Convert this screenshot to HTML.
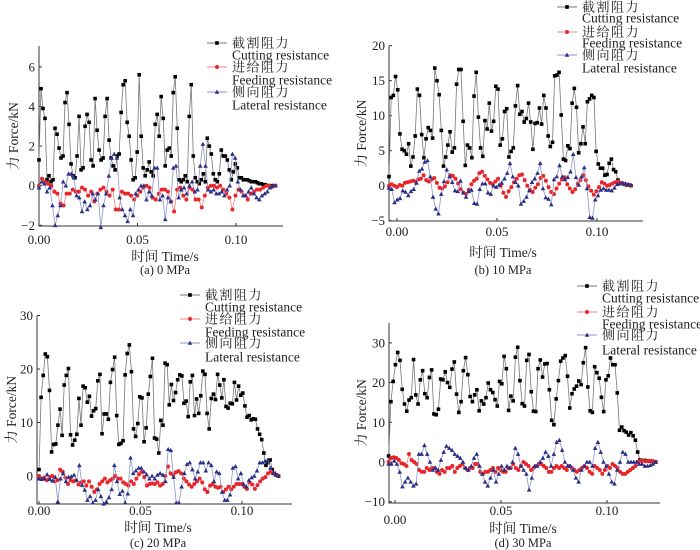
<!DOCTYPE html>
<html><head><meta charset="utf-8"><style>
body{margin:0;background:#fff;}
svg{display:block;font-family:"Liberation Serif","Noto Serif CJK SC",serif;}
</style></head><body>
<svg id="fig" width="700" height="550" viewBox="0 0 700 550" xmlns="http://www.w3.org/2000/svg"></svg>
<script>
// ---- data ----
const aCut=[1.3,4.9,3.9,3.4,0.3,0.5,0.2,0.3,2.9,2.6,1.9,1.4,1.5,4.2,4.7,3.1,1.1,0.5,0.4,1.5,3.5,0.8,0.9,3.0,3.6,3.2,1.3,1.0,4.4,2.8,1.8,1.3,1.4,3.5,4.4,2.3,1.4,1.0,0.8,1.5,1.6,3.7,5.1,5.3,3.2,2.5,1.3,0.3,0.4,1.7,5.6,2.5,0.9,0.5,0.8,1.2,0.7,0.5,3.1,3.6,2.5,4.5,3.4,1.0,1.8,1.9,1.5,4.7,5.5,2.9,0.3,0.2,0.3,0.5,0.2,3.5,5.1,1.5,0.4,0.2,0.1,0.3,0.6,0.2,2.4,2.0,1.6,0.6,0.3,0.2,0.6,1.8,1.5,1.5,1.3,0.8,0.3,0.7,1.1,0.9,0.4,0.4,0.3,0.3,0.3,0.25,0.2,0.2,0.2,0.15,0.1,0.1,0.05,0.05,0,0,0,0,0];
const aFeed=[0,0.35,0.2,0.1,0,-0.3,-0.4,-0.9,-1.0,-0.4,-0.4,-0.2,-0.3,-0.3,-0.1,-0.2,-0.5,-0.3,-0.8,-0.4,-0.2,-0.1,-0.3,-0.5,-0.2,-1.2,-1.2,-0.3,-0.4,-0.4,-0.5,-0.7,-0.5,-0.3,-0.1,0,-0.1,-0.6,-0.7,-0.4,-0.2,-0.2,-0.3,-0.8,-1.3,-0.2,-0.1,-0.5,-0.7,-0.1,-0.2,-0.7,-0.7,-1.1,-0.5,-0.1,0,0,-0.1,0,-0.2,-0.4,-0.6,-1.2,-0.5,-0.2,-0.3,-0.5,-0.7,-0.4,-0.3,-0.2,-0.2,-0.1,0,0,-0.05,0];
const aLat=[-0.1,0.2,0.1,-0.3,-0.1,-1.0,-2.0,-1.5,-1.0,0.2,0,0.6,0.6,0.4,-0.5,-0.6,-1.3,-0.8,-1.2,-1.0,-0.4,-0.7,-0.4,-2.1,-1.0,-0.4,0.5,1.4,1.6,1.4,-0.6,-1.2,-1.5,-1.8,-1.2,-1.5,-0.4,-0.2,0,0,-0.7,-0.3,-0.5,0.9,0.9,-0.7,-0.5,-1.7,-0.6,-0.8,0.9,1.0,-0.6,-0.2,-0.1,-0.4,0,0.2,-0.3,-0.2,1.0,2.1,1.0,-0.2,-0.3,-0.2,-0.4,-0.4,-0.3,-0.5,-0.2,0,1.6,1.4,0.2,-0.2,-0.5,-0.5,-0.3,-0.1,-0.4,-0.6,-0.7,-0.5,-0.4,-0.3,-0.1,0,0];
const bCut=[1.3,12.6,12.9,15.6,13.7,7.4,5.2,5.0,4.5,6.0,2.8,4.1,7.1,13.8,12.9,7.3,4.0,6.7,8.3,7.9,6.8,16.8,15.0,13.0,7.9,2.8,4.1,5.8,7.7,4.8,5.4,14.5,16.6,16.6,9.2,2.9,5.8,5.4,4.0,12.8,16.2,9.8,5.4,4.2,9.3,8.1,11.8,7.8,9.2,14.2,13.8,5.8,6.7,10.6,11.0,4.1,4.9,5.4,11.4,14.3,10.2,10.6,9.1,9.6,11.8,9.1,5.2,8.9,9.0,11.1,8.8,12.9,11.1,7.1,5.6,6.2,15.7,15.8,16.2,10.1,3.8,3.6,5.7,5.3,11.8,13.9,11.2,4.7,6.0,8.4,6.0,12.0,12.4,12.9,12.6,4.9,3.1,2.5,2.5,1.5,1.6,3.2,3.8,2.3,2.0,0.8,0.4,0.3,0.2,0.1,0.1,0];
const bFeed=[0,0.2,0,-0.2,0.1,0,0.4,0.5,0.6,0.7,0.6,0.9,1.0,1.5,0.8,0.6,0.9,1.1,0.4,-0.3,-0.4,-0.1,0.5,1.5,1.4,1.0,0.3,-0.5,-1.0,-1.2,-0.6,0.2,0.7,1.0,1.8,2.0,1.4,0.9,0.4,0.2,0.6,1.0,0,-1.0,-1.6,-0.8,-0.2,0.5,1.0,1.5,1.6,0.8,0,-0.6,-0.9,-0.3,0.2,1.1,1.4,0.7,-0.2,-0.9,-1.2,-0.4,0.3,0.9,1.2,0.2,-0.4,-0.9,-0.5,0.3,0.8,1.5,0.8,-0.1,-0.7,-1.3,-0.8,-0.2,0.5,0.3,0,0.1,0.3,0.5,0.6,0.4,0.3,0.2,0.1,0];
const bLat=[-0.3,-0.5,-2.4,-2.0,-1.8,-0.7,-0.9,-1.4,-0.8,-0.5,0.4,2.1,2.4,3.4,3.6,1.3,-1.6,-3.3,-4.0,-1.2,0.6,2.3,1.3,0.5,-0.7,-0.8,0.7,-1.0,-1.6,-0.8,-0.6,-2.5,-2.6,-0.5,0.3,0.3,-1.0,-1.2,0,-0.2,0.1,0.4,1.0,1.8,3.2,1.3,0.5,0,-2.6,-2.2,-1.6,-0.7,0.5,1.0,1.8,3.2,-0.4,-1.7,-1.9,-2.7,0.9,1.3,2.9,1.3,0.9,1.2,2.0,4.5,1.2,0.1,1.3,2.6,-0.4,-4.5,-4.6,-2.0,-1.4,-0.6,-0.4,-0.6,-0.6,-0.7,-0.3,0.2,0.3,0.4,0.3,0.2,0.1];
const cCut=[1.2,14.7,18.8,22.8,22.3,16.0,4.5,5.9,6.0,9.5,12.5,7.6,17.0,18.8,20.1,7.7,5.8,6.7,7.8,14.5,9.5,16.8,16.5,13.8,14.9,11.2,12.2,12.6,17.8,19.0,7.9,11.6,11.6,10.6,17.5,19.9,22.2,11.3,5.9,6.1,6.6,18.9,22.9,24.5,19.5,8.8,7.4,9.8,14.8,14.6,6.4,9.0,15.3,18.6,22.0,7.1,6.9,4.3,10.4,9.5,21.1,20.8,13.3,17.1,14.1,15.6,18.0,18.9,18.7,13.6,14.0,11.1,17.6,18.8,11.3,14.4,11.7,15.0,19.6,19.0,11.7,8.8,14.5,15.3,14.3,19.0,17.0,14.6,18.0,13.0,12.7,13.6,13.5,17.5,14.2,16.8,15.1,15.5,13.1,11.0,11.3,10.5,10.7,10.6,8.8,7.8,6.8,4.3,2.0,2.5,3.0,1.2,0.5,0.2,0];
const cFeed=[0,-0.5,-0.3,-0.8,-0.2,0,-1.0,-0.8,1.2,0.8,-0.3,-1.5,-0.8,-1.0,-0.8,-1.6,-1.2,-1.0,-1.8,-1.0,-2.0,-3.0,-2.5,-1.5,-1.0,-0.5,-1.2,-0.8,-0.5,0,-0.5,-0.5,-1.2,-1.5,-1.8,-1.0,-1.5,-0.5,0.3,0.8,-0.2,-1.8,-1.5,-1.4,-1.5,-1.2,-1.8,-1.5,0,1.8,0.5,0.2,0.7,0.9,0.5,-0.5,-1.0,-1.6,-2.0,-1.5,-1.0,-0.5,-1.2,-2.5,-3.0,-1.8,-1.5,-2.0,-2.2,-2.0,-3.0,-2.5,-2.0,-2.5,-2.0,-1.5,-1.5,-1.5,-2.0,-2.4,-1.2,-1.6,-2.4,-1.7,-1.0,-0.5,-0.2,0.5,0.8,0.5,0.2,0];
const cLat=[-0.5,-0.6,-0.5,0.3,-0.6,-0.9,-0.2,-4.8,-0.5,0.5,-1.0,-0.2,-0.1,0.2,-0.8,2.0,-1.7,-2.6,-4.5,-3.8,-5.0,-4.5,-2.5,-3.8,-5.2,-4.8,-4.0,-2.5,2.0,-1.0,-3.4,-2.8,-5.0,-3.3,3.4,0.5,1.0,1.5,1.5,0.8,0.3,-0.5,0,-0.5,0.2,0.5,0.2,-1.0,5.0,4.8,-0.2,-5.0,-5.0,-2.0,0.5,2.2,2.5,1.2,-0.5,0.8,2.5,2.5,1.0,2.5,2.0,-1.0,0.8,0.5,-3.0,-4.5,-4.5,-3.5,1.5,1.8,-0.5,0.5,-1.5,-2.0,-0.8,-0.3,0,1.0,2.5,2.5,2.8,3.0,1.5,0.5,0.2,0];
const dCut=[1.5,15.2,20.3,24.5,27.6,25.6,18.3,14.6,12.8,15.6,16.2,25.8,16.9,14.6,20.7,23.0,17.2,16.2,21.3,23.2,12.1,11.9,13.3,20.9,20.7,22.7,20.0,18.8,23.4,25.2,17.1,12.5,15.2,23.0,26.3,22.0,16.5,15.2,16.9,18.2,12.9,15.4,14.6,16.2,19.9,18.2,17.5,15.7,14.1,20.3,19.7,26.6,23.5,13.0,16.6,15.4,26.4,28.9,20.5,14.7,14.1,25.6,27.1,17.7,12.8,12.7,23.5,25.7,21.4,24.7,24.8,18.2,10.5,9.4,15.9,20.5,25.4,26.2,26.8,21.6,13.6,17.2,18.4,19.1,20.4,19.5,25.0,28.8,18.9,12.9,12.5,24.0,22.5,21.1,16.3,12.7,20.7,21.7,26.2,24.5,24.5,17.4,8.0,8.8,7.9,7.5,6.8,7.4,6.6,5.5,2.5,0.5,0.4,0.4,0.3,0.2,0.2,0.1,0];
const dFeed=[0,1,1.2,1.0,0.5,-0.3,-0.5,-1.0,2.0,0.5,0,-0.5,-2,-2.5,-2.5,-1.5,-2,-1.5,-1.5,-2.5,-3,-2,-2.5,-1.5,-1.5,-1.0,-2.5,-1.5,-1.0,-0.5,-1.5,-2.0,-1.5,-1.5,-0.5,-0.5,-2.5,-3,-2.5,-2.5,-2,-1.5,-2.5,-1.5,-2,-2.5,-2.5,-1.5,-1.5,-0.5,-1.5,-2,-1.0,0,-0.5,-1,-2,-1.5,-1,-0.5,-0.5,-1.0,-1.5,-2.5,-2.5,-1.5,-1.0,-1.5,-1.0,-1.5,-2.0,-1.0,-1.5,-2.0,-2.5,-2.0,-1.5,-1.0,-1.5,-2.5,-3,-1.0,-1.5,-2.0,-3.0,-2.0,-1.0,-1.5,-0.5,-1.0,-1.5,-2.5,-3.0,-3.0,-2.5,-2,-1.5,-1,0,0.3,0.3,0.2,0.2,0.3,0.2,0];
const dLat=[-0.5,-0.5,0.3,-0.5,-2.5,-6.2,-5.0,-4,-5,-6,-5.5,2,2,4.2,2,0,-2,-1.5,-2,0.5,2.5,4.0,3.5,3.0,2.0,1.5,1.0,0,-1.5,-2,-1,1,2,-1,-3,-5,-6,-4,-2,-5,-3,-1,-2,-1,-1.5,0,3.5,2,-1,-2,-3,-7,-4,-1,-1,0,1,2.5,1.5,-1,2,5,5.5,3,0,-1,-1,-2,-4,-5,-2,-1,0,0,-1,3.5,5,2.5,0,-1,-3,-5,-5.5,-2,0,2.5,2,0,0,0,0,-0.5,-0.5,-1,-1,-0.8,-0.5,0];
const yTicksA=[-2,0,2,4,6], yTicksB=[-5,0,5,10,15,20], yTicksC=[0,10,20,30], yTicksD=[-10,0,10,20,30];
const xTicks=[0,0.05,0.10], xTickLabels=["0.00","0.05","0.10"];
const captions=["(a) 0 MPa","(b) 10 MPa","(c) 20 MPa","(d) 30 MPa"];

const NS="http://www.w3.org/2000/svg";
const svg=document.getElementById('fig');
function el(tag,attrs,parent){const e=document.createElementNS(NS,tag);for(const k in attrs)e.setAttribute(k,attrs[k]);(parent||svg).appendChild(e);return e;}
function txt(s,attrs,parent){const e=el('text',attrs,parent);e.textContent=s;return e;}

const panels=[
 {id:'a',cut:aCut,feed:aFeed,lat:aLat,yt:yTicksA,x0:39,xs:1970,t0:0,t1:0.12,axL:39,axR:283,y0:185.7,ys:19.8,axB:226,axT:46,xlabY:[244,244,244],ylabX:14,xcap:165,legX:207,legY:[43,55,67,80,92,105],titleY:261,capY:274},
 {id:'b',cut:bCut,feed:bFeed,lat:bLat,yt:yTicksB,x0:397,xs:2000,t0:-0.004,t1:0.117,axL:389,axR:643,y0:185.7,ys:7,axB:221,axT:46,xlabY:[236,236,236],ylabX:362,xcap:503,legX:557,legY:[7,18,32,43,55,68],titleY:257,capY:274},
 {id:'c',cut:cCut,feed:cFeed,lat:cLat,yt:yTicksC,x0:39,xs:2030,t0:0,t1:0.118,axL:37,axR:292,y0:476,ys:5.35,axB:504,axT:315.7,xlabY:[515,515,515],ylabX:12,xcap:158,legX:180,legY:[295,307,319,332,343,357],titleY:532,capY:547},
 {id:'d',cut:dCut,feed:dFeed,lat:dLat,yt:yTicksD,x0:395,xs:2120,t0:-0.003,t1:0.123,axL:389,axR:660,y0:462,ys:3.97,axB:503,axT:323,xlabY:[524,515,515],ylabX:362,xcap:523,legX:577,legY:[286,298,312,324,335,350],titleY:533,capY:547}
];

function sq(g,x,y){const r=el('rect',{x:x-1.8,y:y-1.8,width:3.6,height:3.6,fill:'#000'},g);}
function dot(g,x,y){const r=el('circle',{cx:x,cy:y,r:2,fill:'#e8262b'},g);}
function tri(g,x,y){const r=el('polygon',{points:`${x},${y-2.4} ${x-2.3},${y+1.8} ${x+2.3},${y+1.8}`,fill:'#2a2f86'},g);}

panels.forEach((p,pi)=>{
  const g=el('g',{});
  
  
  const X=t=>p.x0+t*p.xs, Y=v=>p.y0-v*p.ys;
  const ax=el('path',{d:`M${p.axL},${p.axT}V${p.axB}H${p.axR}`,fill:'none',stroke:'#333','stroke-width':1},g);
  
  p.yt.forEach(v=>{
    el('line',{x1:p.axL,x2:p.axL+3,y1:Y(v),y2:Y(v),stroke:'#333'},g);
    const t=txt(String(v).replace('-','\u2212'),{x:p.axL-4,y:Y(v)+4.5,'text-anchor':'end','font-size':13,fill:'#222'},g);
    
  });
  xTicks.forEach((v,i)=>{
    el('line',{x1:X(v),x2:X(v),y1:p.axB,y2:p.axB-3,stroke:'#333'},g);
    const t=txt(xTickLabels[i],{x:X(v),y:p.xlabY[i],'text-anchor':'middle','font-size':13,fill:'#222'},g);
    
  });
  const series=[[p.cut,'#777',sq,'cutting'],[p.feed,'#f08080',dot,'feeding'],[p.lat,'#8f95c8',tri,'lateral']];
  series.forEach(([arr,col,mk,nm])=>{
    const n=arr.length, dt=(p.t1-p.t0)/(n-1);
    const pts=arr.map((v,i)=>[X(p.t0+i*dt),Y(v)]);
    const sg=el('g',{},g);
    
    el('polyline',{points:pts.map(q=>q.join(',')).join(' '),fill:'none',stroke:col,'stroke-width':0.8},sg);
    pts.forEach(q=>mk(sg,q[0],q[1]));
  });
  const lg=el('g',{},g);
  
  const legItems=[['截割阻力','Cutting resistance','#777',sq],['进给阻力','Feeding resistance','#f08080',dot],['侧向阻力','Lateral resistance','#8f95c8',tri]];
  legItems.forEach((it,k)=>{
    const yy=p.legY[k*2];
    el('line',{x1:p.legX,x2:p.legX+20,y1:yy,y2:yy,stroke:it[2]},lg);
    it[3](lg,p.legX+10,yy);
    const a=txt(it[0],{x:p.legX+25,y:yy+4.5,'font-size':13,fill:'#222','letter-spacing':'1.5'},lg);
    
    const b=txt(it[1],{x:p.legX+25,y:p.legY[k*2+1]+4.5,'font-size':13.5,fill:'#222'},lg);
    
  });
  const cy=(p.axT+p.axB)/2;
  const yl=txt('力 Force/kN',{x:p.ylabX,y:cy,'text-anchor':'middle','font-size':13.5,fill:'#222',transform:`rotate(-90 ${p.ylabX} ${cy})`,dy:4},g);
  
  const xl=txt('时间 Time/s',{x:p.xcap,y:p.titleY,'text-anchor':'middle','font-size':13.5,fill:'#222'},g);
  
  const cp=txt(captions[pi],{x:p.xcap,y:p.capY,'text-anchor':'middle','font-size':12.5,fill:'#222'},g);
  
});
</script>
</body></html>
